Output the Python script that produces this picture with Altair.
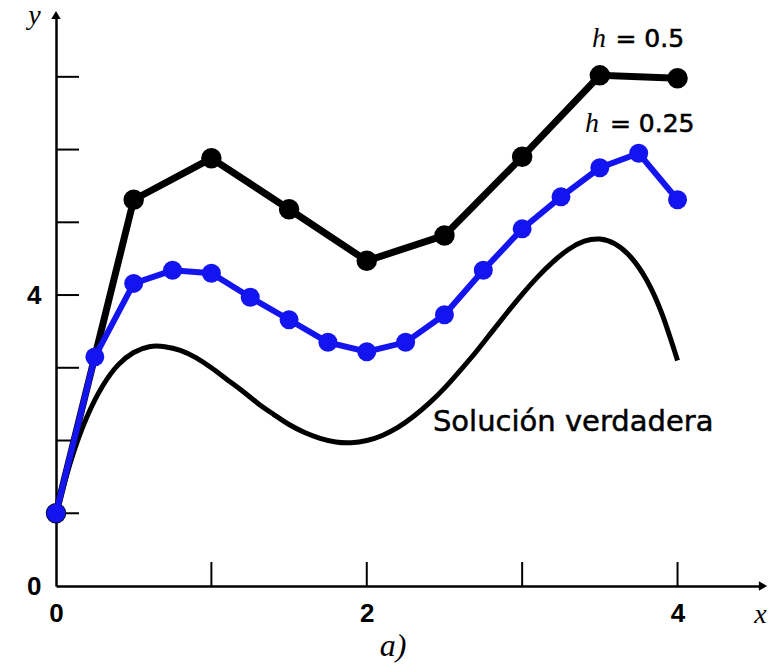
import altair as alt
import pandas as pd

# Euler h = 0.5
x_h05 = [0.0, 0.5, 1.0, 1.5, 2.0, 2.5, 3.0, 3.5, 4.0]
y_h05 = [1.0, 5.31, 5.88, 5.18, 4.47, 4.82, 5.90, 7.02, 6.98]

# Euler h = 0.25
x_h025 = [0.0, 0.25, 0.5, 0.75, 1.0, 1.25, 1.5, 1.75, 2.0, 2.25, 2.5, 2.75, 3.0, 3.25, 3.5, 3.75, 4.0]
y_h025 = [1.0, 3.15, 4.16, 4.34, 4.30, 3.97, 3.66, 3.35, 3.22, 3.35, 3.73, 4.34, 4.91, 5.35, 5.75, 5.95, 5.31]

# True solution
x_true = [0.0, 0.1, 0.2, 0.3, 0.4, 0.5, 0.6, 0.7, 0.8, 0.9, 1.0,
          1.1, 1.2, 1.3, 1.4, 1.5, 1.6, 1.7, 1.8, 1.9, 2.0,
          2.1, 2.2, 2.3, 2.4, 2.5, 2.6, 2.7, 2.8, 2.9, 3.0,
          3.1, 3.2, 3.3, 3.4, 3.5, 3.6, 3.7, 3.8, 3.9, 4.0]
y_true = [1.0, 1.75, 2.33, 2.75, 3.04, 3.21, 3.29, 3.29, 3.24, 3.14, 3.0,
          2.84, 2.68, 2.51, 2.36, 2.22, 2.11, 2.03, 1.98, 1.97, 2.0,
          2.07, 2.18, 2.33, 2.51, 2.72, 2.96, 3.21, 3.48, 3.75, 4.01,
          4.25, 4.46, 4.63, 4.74, 4.77, 4.70, 4.52, 4.21, 3.74, 3.10]

y_ticks = [1, 2, 3, 4, 5, 6, 7]
x_ticks = [1, 2, 3, 4]

W, H = 707, 571
XMAX, YMAX = 4.55, 7.85
BLUE = "#1414f0"

xs = alt.Scale(domain=[0, XMAX], nice=False, zero=False)
ys = alt.Scale(domain=[0, YMAX], nice=False, zero=False)

xaxis = alt.Axis(values=[0, 2, 4], format="d", title="x", grid=False, ticks=False,
                 domain=True, domainColor="black", domainWidth=2.5,
                 labelFont="Liberation Sans", labelFontSize=26, labelFontWeight="bold",
                 labelColor="black", labelPadding=14, labelFlush=False,
                 titleFont="Liberation Serif", titleFontStyle="italic", titleFontWeight="normal",
                 titleFontSize=28, titleColor="black", titleX=704, titleY=36,
                 titleAlign="center", titleBaseline="alphabetic")
yaxis = alt.Axis(values=[0, 4], format="d", title="y", grid=False, ticks=False,
                 domain=True, domainColor="black", domainWidth=2.5,
                 labelFont="Liberation Sans", labelFontSize=26, labelFontWeight="bold",
                 labelColor="black", labelPadding=15, labelFlush=False,
                 titleFont="Liberation Serif", titleFontStyle="italic", titleFontWeight="normal",
                 titleFontSize=28, titleColor="black", titleAngle=0, titleX=-22, titleY=8,
                 titleAlign="center", titleBaseline="alphabetic")

df_true = pd.DataFrame({"x": x_true, "y": y_true})
df05 = pd.DataFrame({"x": x_h05, "y": y_h05})
df025 = pd.DataFrame({"x": x_h025, "y": y_h025})

base_true = alt.Chart(df_true).mark_line(color="black", strokeWidth=5, interpolate="natural").encode(
    x=alt.X("x:Q", scale=xs, axis=xaxis),
    y=alt.Y("y:Q", scale=ys, axis=yaxis),
)

line05 = alt.Chart(df05).mark_line(color="black", strokeWidth=7).encode(
    x=alt.X("x:Q", scale=xs), y=alt.Y("y:Q", scale=ys))
pts05 = alt.Chart(df05).mark_circle(color="black", size=420, opacity=1).encode(
    x=alt.X("x:Q", scale=xs), y=alt.Y("y:Q", scale=ys))
line025 = alt.Chart(df025).mark_line(color=BLUE, strokeWidth=6).encode(
    x=alt.X("x:Q", scale=xs), y=alt.Y("y:Q", scale=ys))
pts025 = alt.Chart(df025).mark_circle(color=BLUE, size=360, opacity=1).encode(
    x=alt.X("x:Q", scale=xs), y=alt.Y("y:Q", scale=ys))

ytick_rules = alt.Chart(pd.DataFrame({"y": y_ticks})).mark_rule(color="black", strokeWidth=2).encode(
    y=alt.Y("y:Q", scale=ys), x=alt.value(0), x2=alt.value(23))
xtick_rules = alt.Chart(pd.DataFrame({"x": x_ticks})).mark_rule(color="black", strokeWidth=2).encode(
    x=alt.X("x:Q", scale=xs), y=alt.value(H), y2=alt.value(H - 24))

arrow_y = alt.Chart(pd.DataFrame({"y": [YMAX]})).mark_point(
    shape="triangle-up", filled=True, color="black", size=90, opacity=1).encode(
    x=alt.value(0), y=alt.Y("y:Q", scale=ys))
arrow_x = alt.Chart(pd.DataFrame({"x": [XMAX]})).mark_point(
    shape="triangle-right", filled=True, color="black", size=90, opacity=1).encode(
    x=alt.X("x:Q", scale=xs), y=alt.value(H))

labels = pd.DataFrame({
    "x": [3.45, 3.60, 3.404, 3.565],
    "y": [7.41, 7.41, 6.24, 6.24],
    "t": ["h", "= 0.5", "h", "= 0.25"],
    "kind": ["h", "v", "h", "v"],
})
h_text = alt.Chart(labels[labels.kind == "h"]).mark_text(
    font="Liberation Serif", fontStyle="italic", fontSize=28, align="left",
    baseline="alphabetic", color="black").encode(
    x=alt.X("x:Q", scale=xs), y=alt.Y("y:Q", scale=ys), text="t:N")
v_text = alt.Chart(labels[labels.kind == "v"]).mark_text(
    font="DejaVu Sans", fontSize=25, align="left", baseline="alphabetic",
    color="black", stroke="black", strokeWidth=0.6).encode(
    x=alt.X("x:Q", scale=xs), y=alt.Y("y:Q", scale=ys), text="t:N")

sol_text = alt.Chart(pd.DataFrame({"x": [2.426], "y": [2.13], "t": ["Solución verdadera"]})).mark_text(
    font="DejaVu Sans", fontSize=29, align="left", baseline="alphabetic",
    color="black", stroke="black", strokeWidth=0.5).encode(
    x=alt.X("x:Q", scale=xs), y=alt.Y("y:Q", scale=ys), text="t:N")

cap_text = alt.Chart(pd.DataFrame({"x": [2.17], "y": [-0.96], "t": ["a)"]})).mark_text(
    font="Liberation Serif", fontStyle="italic", fontSize=32, align="center",
    baseline="alphabetic", color="black").encode(
    x=alt.X("x:Q", scale=xs), y=alt.Y("y:Q", scale=ys), text="t:N")

chart = alt.layer(
    base_true, ytick_rules, xtick_rules, arrow_y, arrow_x,
    line05, pts05, line025, pts025, h_text, v_text, sol_text, cap_text
).properties(
    width=W, height=H,
    autosize=alt.AutoSizeParams(type="none"),
    padding={"left": 56, "top": 15, "right": 18, "bottom": 84},
    background="white",
).configure_view(stroke=None)

chart.save("out.html", embed_options={"renderer": "svg", "actions": False})
